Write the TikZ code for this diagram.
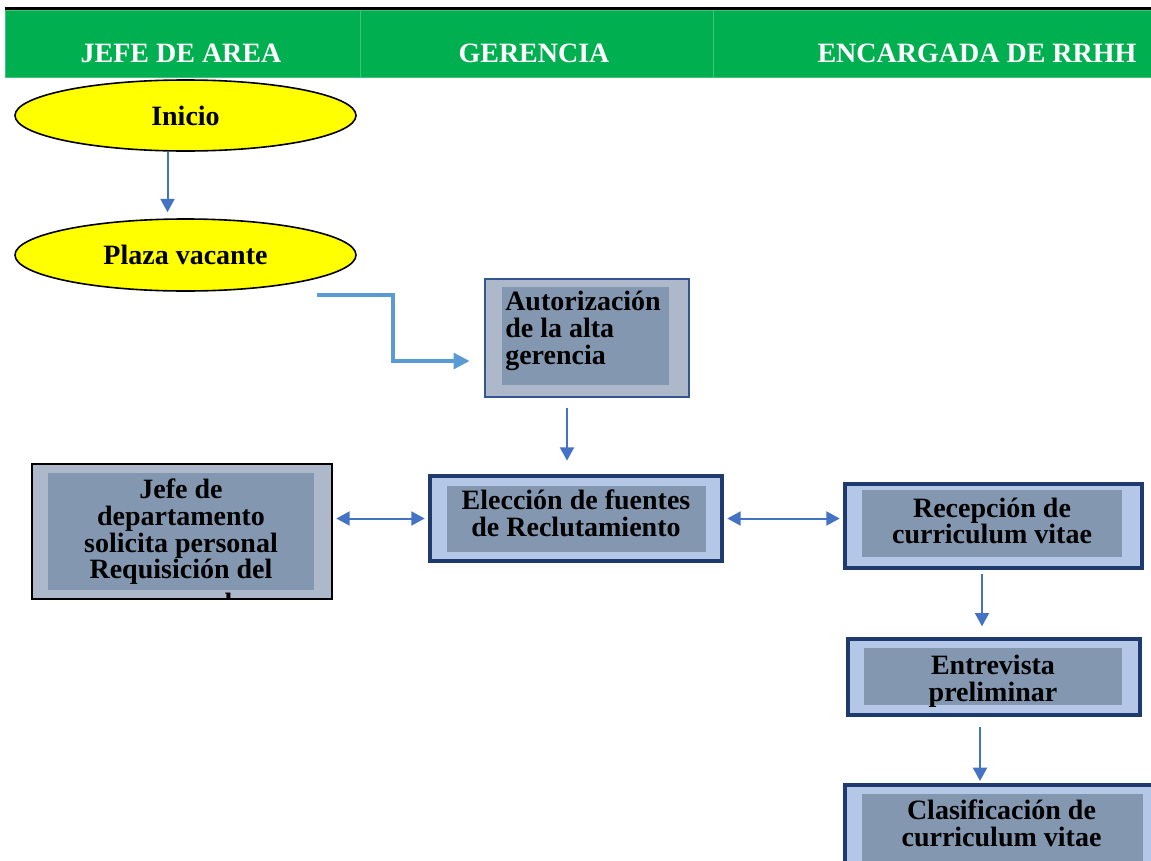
\documentclass[tikz,border=0pt]{standalone}
\usepackage{xcolor}
\usepackage{fontspec}
\setmainfont{Liberation Serif}
\usepackage{tikz}
\usetikzlibrary{shapes.geometric,arrows.meta,calc}

\definecolor{verde}{HTML}{00B050}
\definecolor{amarillo}{HTML}{FFFF00}
\definecolor{azul}{HTML}{4472C4}
\definecolor{celestelinea}{HTML}{5B9BD5}
\definecolor{marino}{HTML}{1F3A6E}
\definecolor{celeste}{HTML}{B4C7E7}
\definecolor{grisazul}{HTML}{ADB9CA}
\definecolor{pizarra}{HTML}{8497B0}
\newcommand{\px}{0.75pt}
\newcommand{\letra}{\fontsize{21}{20}\selectfont\bfseries}

\tikzset{
  carril/.style={fill=verde, draw=verde!75!white, line width=0.6pt, minimum height=67*\px, inner sep=0pt},
  titulo/.style={text=white, font=\letra, inner sep=0pt},
  ovalo/.style={ellipse, draw=black, line width=1.2pt, fill=amarillo, minimum width=341*\px, minimum height=71*\px, font=\letra, inner sep=0pt},
  marco/.style={draw=marino, line width=3pt, fill=celeste, inner sep=0pt},
  marcogris/.style={draw=#1, line width=1.5pt, fill=grisazul, inner sep=0pt},
  interior/.style={fill=pizarra, inner sep=0pt},
  texto/.style={font=\letra, align=center, inner sep=0pt},
  flecha/.style={azul, line width=1.5pt, -{Triangle[length=10pt,width=10.5pt]}},
  flechados/.style={azul, line width=1.5pt, {Triangle[length=10pt,width=10.5pt]}-{Triangle[length=10pt,width=10.5pt]}},
  flechaancha/.style={celestelinea, line width=2.4pt, -{Triangle[length=12pt,width=12pt]}}
}

\begin{document}
\begin{tikzpicture}[x=0.75pt,y=0.75pt,yscale=-1,xscale=1]
\useasboundingbox (0,0) rectangle (1151,860);
\clip (0,0) rectangle (1151,860);

% carriles
\node[carril, minimum width=355*\px] (c1) at (182.5,43.5) {};
\node[carril, minimum width=353*\px] (c2) at (536.5,43.5) {};
\node[carril, minimum width=528*\px] (c3) at (977,43.5) {};
\draw[line width=2.2pt] ($(c1.north west)+(0,-1.5)$) -- ($(c3.north east)+(0,-1.5)$);
\node[titulo] (t1) at (181,53) {JEFE DE AREA};
\node[titulo] (t2) at (534,53) {GERENCIA};
\node[titulo] (t3) at (977,53) {ENCARGADA DE RRHH};

% jefe de area
\node[ovalo] (ini) at (185.5,115.5) {Inicio};
\node[ovalo, minimum height=72*\px] (pla) at (185.5,255) {Plaza vacante};
\node[marcogris=black, minimum width=300*\px, minimum height=135*\px] (jef) at (182,531.5) {};
\node[interior, minimum width=266*\px, minimum height=117*\px] (jefin) at (181,531.5) {};
\begin{scope}
  \clip ($(jef.north west)+(2,2)$) rectangle ($(jef.south east)+(-2,-2.5)$);
  \node[texto, anchor=north] (jefx) at (181,479) {Jefe de\\departamento\\solicita personal\\Requisición del\\[5pt]personal};
\end{scope}

% gerencia
\node[marcogris=azul!75!black, minimum width=204*\px, minimum height=118*\px] (aut) at (586.5,337.5) {};
\node[interior, minimum width=167*\px, minimum height=98*\px] (autin) at (585.5,336) {};
\node[texto, align=left, anchor=north west] (autx) at (505,291) {Autorización\\de la alta\\gerencia};
\node[marco, minimum width=292*\px, minimum height=85*\px] (elec) at (576,518.5) {};
\node[interior, minimum width=259*\px, minimum height=66*\px] (elecin) at (576.5,519) {};
\node[texto] (elecx) at (576,513.5) {Elección de fuentes\\de Reclutamiento};

% encargada de rrhh
\node[marco, minimum width=297*\px, minimum height=84*\px] (rec) at (993.5,526) {};
\node[interior, minimum width=260*\px, minimum height=67*\px] (recin) at (992,523.5) {};
\node[texto] (recx) at (992,521) {Recepción de\\curriculum vitae};
\node[marco, minimum width=292*\px, minimum height=76*\px] (ent) at (994,677) {};
\node[interior, minimum width=258*\px, minimum height=57*\px] (entin) at (993,676.5) {};
\node[texto] (entx) at (993,681) {Entrevista\\preliminar};
\node[marco, minimum width=314*\px, minimum height=88*\px] (cla) at (1002,829) {};
\node[interior, minimum width=281*\px, minimum height=68*\px] (clain) at (1002.5,828) {};
\node[texto] (clax) at (1001.5,823.5) {Clasificación de\\curriculum vitae};

% conectores
\draw[flecha, shorten >=4.5pt] ($(ini.south)+(-18,0)$) coordinate (i1) -- (i1 |- pla.north);
\coordinate (codo) at (317,295);
\draw[flechaancha] (codo) -- ++(76,0) |- ($(aut.west)+(-14,23.5)$);
\draw[flecha, shorten <=8pt, shorten >=10pt] ($(aut.south)+(-19.5,0)$) coordinate (a1) -- (a1 |- elec.north);
\draw[flechados, shorten <=2.5pt, shorten >=2.5pt] (jef.east |- elec.west) -- (elec.west);
\draw[flechados, shorten <=2.5pt, shorten >=2.5pt] (elec.east) -- (elec.east -| rec.west);
\draw[flecha, shorten <=3pt, shorten >=8pt] ($(rec.south)+(-11.5,0)$) coordinate (r1) -- (r1 |- ent.north);
\draw[flecha, shorten <=7.5pt, shorten >=1.5pt] ($(ent.south)+(-14,0)$) coordinate (e1) -- (e1 |- cla.north);
\end{tikzpicture}
\end{document}
